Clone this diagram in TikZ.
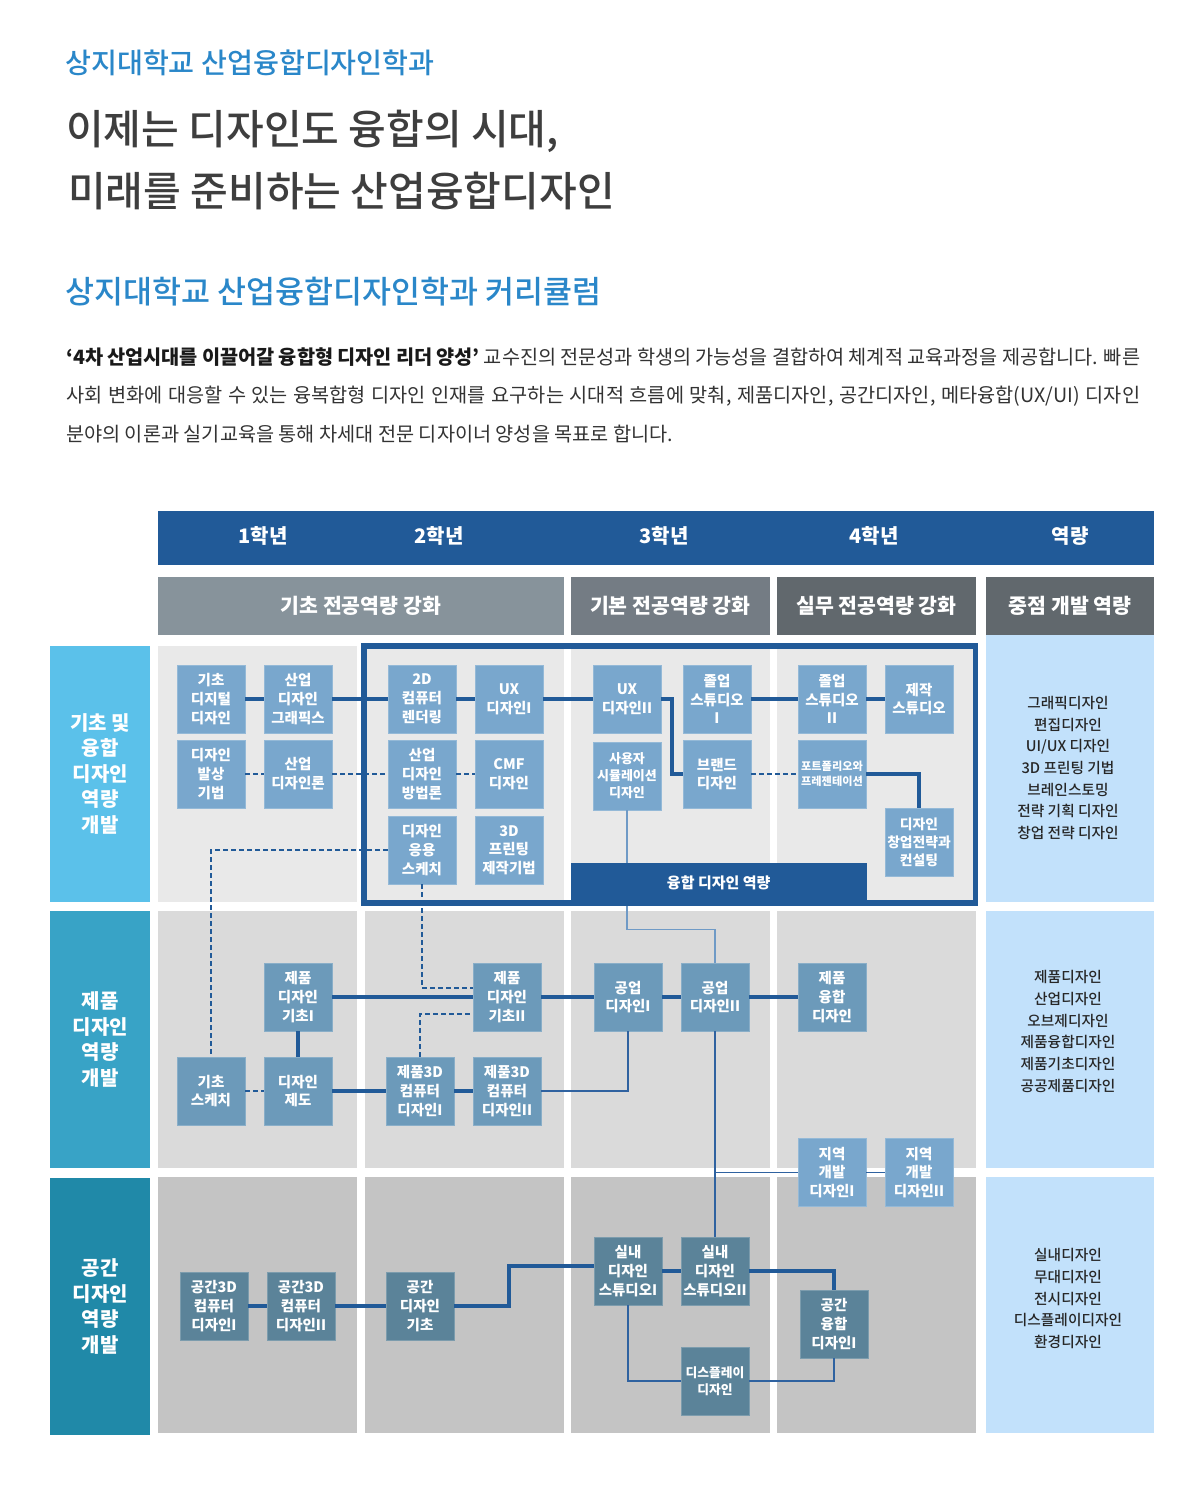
\documentclass[tikz,border=0pt]{standalone}
\usepackage{fontspec}
\setmainfont{Noto Sans CJK KR}
\IfFontExistsTF{Noto Sans CJK KR Medium}
  {\newfontfamily\krmedium{Noto Sans CJK KR Medium}}
  {\newcommand\krmedium{\bfseries}}
\usetikzlibrary{calc}

\definecolor{hblue}{HTML}{215A98}
\definecolor{tblue}{HTML}{2F62A0}
\definecolor{tlight}{HTML}{6F9AC6}
\definecolor{boxA}{HTML}{79A7CD}
\definecolor{boxB}{HTML}{6C9ABA}
\definecolor{boxC}{HTML}{5B8399}
\definecolor{rowA}{HTML}{E9E9E9}
\definecolor{rowB}{HTML}{DADADA}
\definecolor{rowC}{HTML}{C4C4C4}
\definecolor{sideA}{HTML}{5BC1EA}
\definecolor{sideB}{HTML}{38A3C6}
\definecolor{sideC}{HTML}{2089A8}
\definecolor{bandA}{HTML}{87939B}
\definecolor{bandB}{HTML}{747C84}
\definecolor{bandC}{HTML}{61686D}
\definecolor{pale}{HTML}{C2E1FB}
\definecolor{titleblue}{HTML}{2A87C9}
\definecolor{headgray}{HTML}{3E3E3E}
\definecolor{bodygray}{HTML}{333333}

\tikzset{
  course/.style={minimum width=68pt, minimum height=68pt, inner sep=0pt, align=center,
    line width=0.8pt, text=white, font=\bfseries\fontsize{14.5}{18.7}\selectfont},
  courseA/.style={course, fill=boxA, draw=boxA!80!white},
  courseB/.style={course, fill=boxB, draw=boxB!80!white},
  courseC/.style={course, fill=boxC, draw=boxC!80!white},
  yearlabel/.style={inner sep=0pt, text=white, font=\bfseries\fontsize{20}{24}\selectfont},
  band/.style={minimum height=58.3pt, inner sep=0pt, text=white, font=\bfseries\fontsize{20.5}{24}\selectfont},
  rowhead/.style={minimum width=100.4pt, minimum height=256.5pt, inner sep=0pt, align=center,
    text=white, font=\bfseries\fontsize{20}{25.5}\selectfont},
  skills/.style={inner sep=0pt, align=center, text=black!85, font=\krmedium\fontsize{14.7}{21.7}\selectfont},
  trunk/.style={draw=hblue, line width=4pt},
  branch/.style={draw=tblue, line width=1.4pt},
  elective/.style={draw=hblue, line width=2pt, dash pattern=on 5pt off 3pt},
}

\begin{document}
\begin{tikzpicture}[x=1pt,y=-1pt]
    \useasboundingbox (0,0) rectangle (1200,1488);

    % heading and text
    \node[anchor=west, inner sep=0pt, text=titleblue, font=\krmedium\fontsize{28.2}{32}\selectfont]
      (dept) at (65,63) {상지대학교 산업융합디자인학과};
    \node[anchor=west, inner sep=0pt, text=headgray, font=\krmedium\fontsize{41}{46}\selectfont]
      (slogan1) at (66,131) {이제는 디자인도 융합의 시대,};
    \node[anchor=west, inner sep=0pt, text=headgray, font=\krmedium\fontsize{41}{46}\selectfont]
      (slogan2) at (68,191) {미래를 준비하는 산업융합디자인};
    \node[anchor=west, inner sep=0pt, text=titleblue, font=\krmedium\fontsize{31.5}{36}\selectfont]
      (curri) at (65,292) {상지대학교 산업융합디자인학과 커리큘럼};
    \node[anchor=west, inner sep=0pt, text=bodygray, font=\fontsize{19.7}{24}\selectfont]
      (para1) at (66,357) {\makebox[1074pt][s]{{\bfseries\color{black!90}‘4차 산업시대를 이끌어갈 융합형 디자인 리더 양성’} 교수진의 전문성과 학생의 가능성을 결합하여 체계적 교육과정을 제공합니다. 빠른}};
    \node[anchor=west, inner sep=0pt, text=bodygray, font=\fontsize{19.7}{24}\selectfont]
      (para2) at (66,396) {\makebox[1074pt][s]{사회 변화에 대응할 수 있는 융복합형 디자인 인재를 요구하는 시대적 흐름에 맞춰, 제품디자인, 공간디자인, 메타융합(UX/UI) 디자인}};
    \node[anchor=west, inner sep=0pt, text=bodygray, font=\fontsize{19.7}{24}\selectfont]
      (para3) at (66,434) {분야의 이론과 실기교육을 통해 차세대 전문 디자이너 양성을 목표로 합니다.};

    % table background
    \fill[hblue] (158,511) rectangle (1154,565);
    \node[yearlabel] (y1) at (263,536) {1학년};
    \node[yearlabel] (y2) at (439,536) {2학년};
    \node[yearlabel] (y3) at (664,536) {3학년};
    \node[yearlabel] (y4) at (874,536) {4학년};
    \node[yearlabel] (y5) at (1070,536) {역량};

    \node[band, fill=bandA, minimum width=405.5pt] (g1) at (360.75,605.85) {기초 전공역량 강화};
    \node[band, fill=bandB, minimum width=198.9pt] (g2) at (670.15,605.85) {기본 전공역량 강화};
    \node[band, fill=bandC, minimum width=199pt] (g3) at (876.5,605.85) {실무 전공역량 강화};
    \node[band, fill=bandC, minimum width=168pt] (g4) at (1070,605.85) {중점 개발 역량};

    \foreach \xa/\xb in {158/357, 365/563.5, 570.7/769.6, 777/976} {
      \fill[rowA] (\xa,645.7) rectangle (\xb,902);
      \fill[rowB] (\xa,911) rectangle (\xb,1168);
      \fill[rowC] (\xa,1176.7) rectangle (\xb,1433);
    }
    \fill[pale] (986,635) rectangle (1154,902);
    \fill[pale] (986,911) rectangle (1154,1168);
    \fill[pale] (986,1176.7) rectangle (1154,1433);

    \node[rowhead, fill=sideA] (r1) at (100.2,773.85) {기초 및\\융합\\디자인\\역량\\개발};
    \node[rowhead, fill=sideB] (r2) at (100.2,1039.35) {제품\\디자인\\역량\\개발};
    \node[rowhead, fill=sideC] (r3) at (100.2,1306.5) {공간\\디자인\\역량\\개발};

    \node[skills] (k1) at (1068,768) {그래픽디자인\\편집디자인\\UI/UX 디자인\\3D 프린팅 기법\\브레인스토밍\\전략 기획 디자인\\창업 전략 디자인};
    \node[skills] (k2) at (1068,1031.5) {제품디자인\\산업디자인\\오브제디자인\\제품융합디자인\\제품기초디자인\\공공제품디자인};
    \node[skills] (k3) at (1068,1298.5) {실내디자인\\무대디자인\\전시디자인\\디스플레이디자인\\환경디자인};

    % basic and fusion courses
    \node[courseA] (b11) at (211,699) {기초\\디지털\\디자인};
    \node[courseA] (b12) at (298,699) {산업\\디자인\\그래픽스};
    \node[courseA] (b13) at (422,699) {2D\\컴퓨터\\렌더링};
    \node[courseA] (b14) at (509,699) {UX\\디자인I};
    \node[courseA] (b15) at (627,699) {UX\\디자인II};
    \node[courseA] (b16) at (717,699) {졸업\\스튜디오\\I};
    \node[courseA] (b17) at (832,699) {졸업\\스튜디오\\II};
    \node[courseA] (b18) at (919,699) {제작\\스튜디오};
    \node[courseA] (b21) at (211,774) {디자인\\발상\\기법};
    \node[courseA] (b22) at (298,774) {산업\\디자인론};
    \node[courseA] (b23) at (422,774) {산업\\디자인\\방법론};
    \node[courseA] (b24) at (509,774) {CMF\\디자인};
    \node[courseA, font=\bfseries\fontsize{13}{17}\selectfont] (b25) at (627,776) {사용자\\시뮬레이션\\디자인};
    \node[courseA] (b26) at (717,774) {브랜드\\디자인};
    \node[courseA, font=\bfseries\fontsize{11.2}{15}\selectfont] (b27) at (832,774) {포트폴리오와\\프레젠테이션};
    \node[courseA, font=\bfseries\fontsize{13.8}{18}\selectfont] (b28) at (919,842) {디자인\\창업전략과\\컨설팅};
    \node[courseA] (b31) at (422,850) {디자인\\응용\\스케치};
    \node[courseA] (b32) at (509,850) {3D\\프린팅\\제작기법};

    % product courses
    \node[courseB] (p1) at (298,997) {제품\\디자인\\기초I};
    \node[courseB] (p2) at (211,1091) {기초\\스케치};
    \node[courseB] (p3) at (298,1091) {디자인\\제도};
    \node[courseB] (p4) at (420,1091) {제품3D\\컴퓨터\\디자인I};
    \node[courseB] (p5) at (507,1091) {제품3D\\컴퓨터\\디자인II};
    \node[courseB] (p6) at (507,997) {제품\\디자인\\기초II};
    \node[courseB] (p7) at (628,997) {공업\\디자인I};
    \node[courseB] (p8) at (715,997) {공업\\디자인II};
    \node[courseB] (p9) at (832,997) {제품\\융합\\디자인};
    \node[courseA] (p10) at (832,1172.5) {지역\\개발\\디자인I};
    \node[courseA] (p11) at (919,1172.5) {지역\\개발\\디자인II};

    % space courses
    \node[courseC] (s1) at (214,1306) {공간3D\\컴퓨터\\디자인I};
    \node[courseC] (s2) at (301,1306) {공간3D\\컴퓨터\\디자인II};
    \node[courseC] (s3) at (420,1306) {공간\\디자인\\기초};
    \node[courseC] (s4) at (628,1271) {실내\\디자인\\스튜디오I};
    \node[courseC] (s5) at (715,1271) {실내\\디자인\\스튜디오II};
    \node[courseC] (s6) at (834,1324) {공간\\융합\\디자인I};
    \node[courseC, font=\bfseries\fontsize{12.8}{17}\selectfont] (s7) at (715,1381) {디스플레이\\디자인};

    % connectors
    \draw[trunk] (b11) -- (b12) -- (b13) -- (b14) -- (b15);
    \draw[trunk] (b15.east) -- ++(11,0) |- (b26.west);
    \draw[trunk] (b16) -- (b17) -- (b18);
    \draw[trunk] (b27.east) -| (b28.north);
    \draw[elective] (b21) -- (b22) -- (b23) -- (b24);
    \draw[elective] (b26) -- (b27);
    \draw[elective] (b31.west) -| (p2.north);
    \draw[elective] (b31.south) |- ([yshift=9pt]p6.west);
    \draw[elective] (p4.north) |- ([yshift=-17pt]p6.west);
    \draw[elective] (p2) -- (p3);

    \draw[trunk] (p1) -- (p6) -- (p7) -- (p8) -- (p9);
    \draw[trunk] (p1) -- (p3);
    \draw[trunk] (p3) -- (p4) -- (p5);
    \draw[branch] (p5.east) -| (p7.south);
    \draw[branch, draw=tlight] (b25.south) -- ++(0,119) -| (p8.north);
    \draw[branch] (p8.south) -- (s5.north);
    \draw[branch] (p8.south |- p10.west) -- (p10.west);
    \draw[branch] (p10) -- (p11);

    \draw[trunk] (s1) -- (s2) -- (s3);
    \draw[trunk] (s3.east) -- ++(54.5,0) |- ([yshift=5pt]s4.west);
    \draw[trunk] (s4) -- (s5);
    \draw[trunk] (s5.east) -| (s6.north);
    \draw[branch] (s4.south) |- (s7.west);
    \draw[branch] (s7.east) -| (s6.south);

    % fusion frame
    \draw[hblue, line width=5.5pt] (364,646) rectangle (975.5,903);
    \node[fill=hblue, minimum width=296pt, minimum height=40pt, inner sep=0pt, text=white,
      font=\bfseries\fontsize{15}{18}\selectfont] (fusion) at (718.7,883) {융합 디자인 역량};
\end{tikzpicture}
\end{document}
